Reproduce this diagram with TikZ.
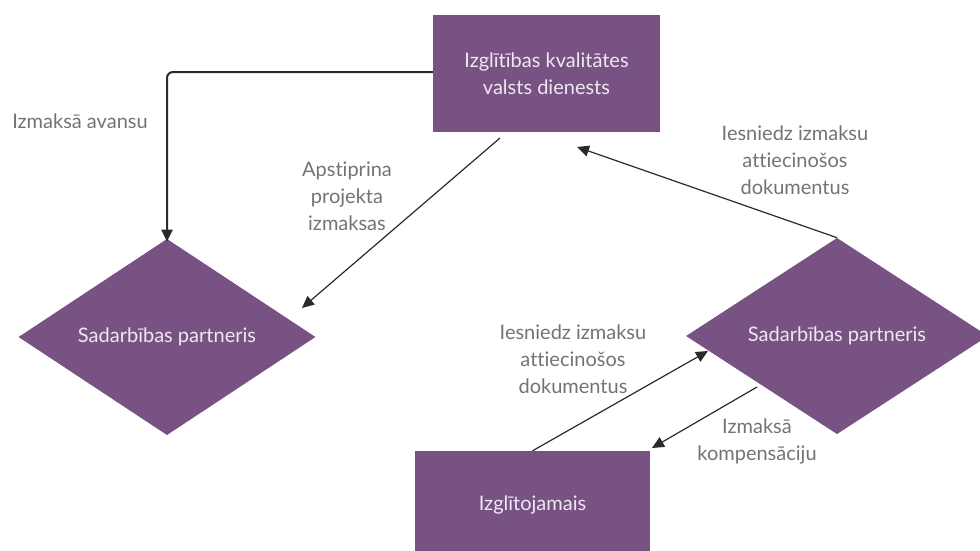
\documentclass[tikz,border=0pt]{standalone}
\usepackage{fontspec}
\setmainfont{Lato}[Ligatures=NoCommon]
\usetikzlibrary{shapes.geometric,arrows.meta}
\definecolor{purp}{HTML}{795284}
\definecolor{boxtxt}{HTML}{EFE8F2}
\definecolor{lbl}{HTML}{737373}
\definecolor{ln}{HTML}{2A2A2A}
\tikzset{
  box/.style={rectangle, fill=purp, text=boxtxt, inner sep=0pt, align=center, font=\fontsize{20}{27}\selectfont},
  dia/.style={diamond, fill=purp, text=boxtxt, inner sep=0pt, align=center, font=\fontsize{20}{27}\selectfont},
  lab/.style={text=lbl, align=center, font=\fontsize{20}{27}\selectfont},
  conn/.style={draw=ln, line width=1.2pt, -{Triangle[length=12pt,width=11pt]}},
}
\begin{document}
\begin{tikzpicture}[x=1pt,y=-1pt]
\useasboundingbox (0,0) rectangle (980,550);
\clip (0,0) rectangle (980,550);
\node[box, minimum width=227pt, minimum height=117pt] (ikvd) at (546.5,73.5) {Izglītības kvalitātes\\valsts dienests};
\node[dia, minimum width=297pt, minimum height=196pt] (ld) at (167,337) {Sadarbības partneris};
\node[dia, minimum width=302pt, minimum height=196pt] (rd) at (837,336) {Sadarbības partneris};
\node[box, minimum width=235pt, minimum height=108pt] (ize) at (532.5,505) {Izglītojamais};

\coordinate (a1s) at (500,138);
\coordinate (a1e) at (302,308);
\coordinate (a2e) at (577,147);
\coordinate (a3e) at (708,351);
\coordinate (a4s) at (757,387);
\coordinate (a4e) at (652,448);

\draw[conn, line width=2pt, rounded corners=6pt] (ikvd.west |- 0,72) -| ([yshift=-3pt]ld.north);
\draw[conn] (a1s) -- (a1e);
\draw[conn] (rd.north) -- (a2e);
\draw[conn] (ize.north) -- (a3e);
\draw[conn] (a4s) -- (a4e);

\node[lab] (l1) at (80,121) {Izmaksā avansu};
\node[lab] (l2) at (347,196) {Apstiprina\\projekta\\izmaksas};
\node[lab] (l3) at (795,160) {Iesniedz izmaksu\\attiecinošos\\dokumentus};
\node[lab] (l4) at (573,359) {Iesniedz izmaksu\\attiecinošos\\dokumentus};
\node[lab] (l5) at (757,441) {Izmaksā\\kompensāciju};
\end{tikzpicture}
\end{document}
